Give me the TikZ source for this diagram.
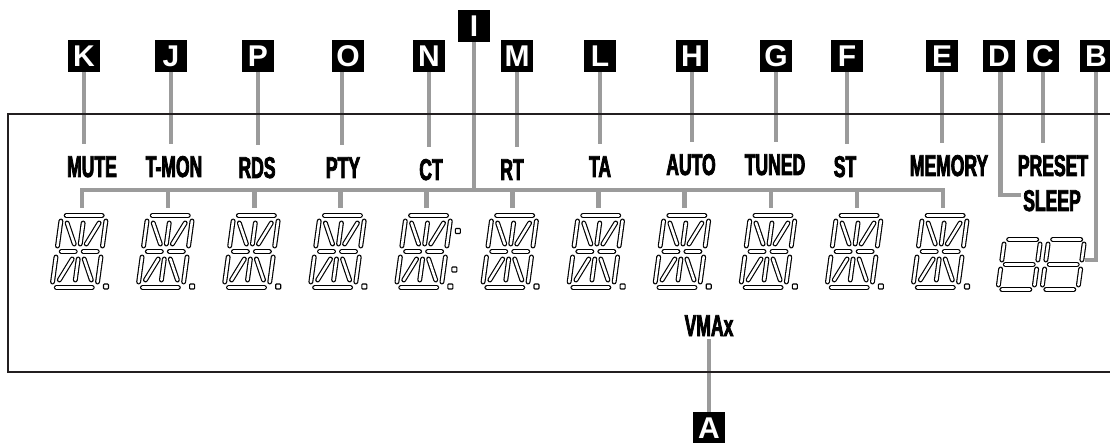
\documentclass[tikz,border=0pt]{standalone}
\usepackage{fontspec}
\usetikzlibrary{positioning,calc}
\newfontfamily\tagfont{Liberation Sans}
\newfontfamily\lcdfont[FakeStretch=0.585,FakeBold=2.5]{Liberation Sans}
\definecolor{leadgray}{HTML}{9B9B9B}
\definecolor{framedark}{HTML}{231F20}
\tikzset{
  seg/.style={draw=black,double=white,double distance=2.6pt,line width=1.15pt,line cap=round},
  dotbox/.style={draw=black,line width=1.1pt,fill=white,rounded corners=0.8pt},
  leader/.style={draw=leadgray,line width=4.6pt},
  tolabel/.style={leader,shorten >=12pt},
  tagbox/.style={fill=black,text=white,minimum size=32pt,inner sep=0pt,
    font={\tagfont\bfseries\fontsize{30}{30}\selectfont}},
  lcd/.style={anchor=base,inner sep=0pt,font={\lcdfont\bfseries\fontsize{30}{30}\selectfont}},
  framebox/.style={draw=framedark,line width=1.8pt}
}
% one 14-segment character, top left corner at #1
\newcommand{\alphadigit}[1]{%
  \begin{scope}[shift={#1},xslant=0.137]
    \draw[seg] (6,2.5)--(42,2.5) (6,74.5)--(42,74.5)
      (6,38.5)--(20,38.5) (28,38.5)--(42,38.5)
      (1.5,8)--(1.5,33) (1.5,44)--(1.5,69)
      (46.5,8)--(46.5,33) (46.5,44)--(46.5,69)
      (24,10)--(24,31) (24,46)--(24,67)
      (8,10)--(18,31) (40,10)--(30,31)
      (18,46)--(8,67) (30,46)--(40,67);
  \end{scope}}
% one 7-segment character
\newcommand{\sevendigit}[1]{%
  \begin{scope}[shift={#1},xslant=0.137]
    \draw[seg] (6,2.5)--(34,2.5) (6,27.5)--(34,27.5) (6,52.5)--(34,52.5)
      (2,7)--(2,23) (2,32)--(2,48) (38,7)--(38,23) (38,32)--(38,48);
  \end{scope}}
\newcommand{\segdot}[1]{\draw[dotbox] #1 rectangle ++(5,5);}

\begin{document}
\begin{tikzpicture}[x=1pt,y=-1pt]
 \useasboundingbox (0,0) rectangle (1110,443);
 \clip (0,0) rectangle (1110,443);

 % display characters
 \foreach \i in {1,...,11}{
   \pgfmathsetmacro{\dx}{82+86.1*(\i-1)}
   \coordinate (dig\i) at (\dx,208);
   \alphadigit{(\dx-21.5,213)}
   \segdot{(\dx+21.5,284)}
 }
 \segdot{($(dig5)+(29,20.5)$)}
 \segdot{($(dig5)+(25.5,59)$)}
 \sevendigit{(1003,237)}
 \sevendigit{(1047,237)}
 \coordinate (sevenR) at (1085,260);
 \coordinate (bus) at (474,190);

 % letter tags
 \node[tagbox] (boxK) at (84,56) {K};
 \node[tagbox] (boxJ) at (171,56) {J};
 \node[tagbox] (boxP) at (258,56) {P};
 \node[tagbox] (boxO) at (348,56) {O};
 \node[tagbox] (boxN) at (429,56) {N};
 \node[tagbox] (boxI) at (474,26) {I};
 \node[tagbox] (boxM) at (517,56) {M};
 \node[tagbox] (boxL) at (600,56) {L};
 \node[tagbox] (boxH) at (692,56) {H};
 \node[tagbox] (boxG) at (776,56) {G};
 \node[tagbox] (boxF) at (847,56) {F};
 \node[tagbox] (boxE) at (942,56) {E};
 \node[tagbox] (boxD) at (999,56) {D};
 \node[tagbox] (boxC) at (1043,56) {C};
 \node[tagbox] (boxB) at (1096,56) {B};
 \node[tagbox] (boxA) at (709,428) {A};

 % indicator labels
 \node[lcd] (mute) at (92,177) {MUTE};
 \node[lcd] (tmon) at (174,177) {T-MON};
 \node[lcd] (rds) at (257,178) {RDS};
 \node[lcd] (pty) at (343,178) {PTY};
 \node[lcd] (ct) at (431,180) {CT};
 \node[lcd] (rt) at (512,180) {RT};
 \node[lcd] (ta) at (600,177) {TA};
 \node[lcd] (auto) at (691,175) {AUTO};
 \node[lcd] (tuned) at (775,175) {TUNED};
 \node[lcd] (st) at (845,177) {ST};
 \node[lcd] (memory) at (949,176) {MEMORY};
 \node[lcd] (preset) at (1053,176) {PRESET};
 \node[lcd] (sleep) at (1052,211) {SLEEP};
 \node[lcd] (vmax) at (709,336) {VMAx};

 % leaders
 \draw[tolabel] (boxK.south) -- (boxK.south |- mute.north);
 \draw[tolabel] (boxJ.south) -- (boxJ.south |- tmon.north);
 \draw[tolabel] (boxP.south) -- (boxP.south |- rds.north);
 \draw[tolabel] ([xshift=-6pt]boxO.south) -- ([xshift=-6pt]boxO.south |- pty.north);
 \draw[tolabel] (boxN.south) -- (boxN.south |- ct.north);
 \draw[tolabel] (boxM.south) -- (boxM.south |- rt.north);
 \draw[tolabel] (boxL.south) -- (boxL.south |- ta.north);
 \draw[tolabel] (boxH.south) -- (boxH.south |- auto.north);
 \draw[tolabel] (boxG.south) -- (boxG.south |- tuned.north);
 \draw[tolabel] (boxF.south) -- (boxF.south |- st.north);
 \draw[tolabel] (boxE.south) -- (boxE.south |- memory.north);
 \draw[tolabel] (boxC.south) -- (boxC.south |- preset.north);
 \draw[leader,shorten >=2pt] ([xshift=1.5pt]boxD.south) |- ([yshift=5.5pt]sleep.west);
 \draw[leader] (boxB.south) |- (sevenR);
 \draw[leader,shorten >=3pt] (boxA.north) -- (boxA.north |- vmax.south);
 \draw[leader] (boxI.south) -- (bus);
 \draw[leader] (dig1) -- (dig1 |- bus) -- (dig11 |- bus) -- (dig11);
 \foreach \i in {2,...,10} \draw[leader] (dig\i) -- (dig\i |- bus);

 % display window
 \draw[framebox] (8,114) rectangle (1125,372);
\end{tikzpicture}
\end{document}
